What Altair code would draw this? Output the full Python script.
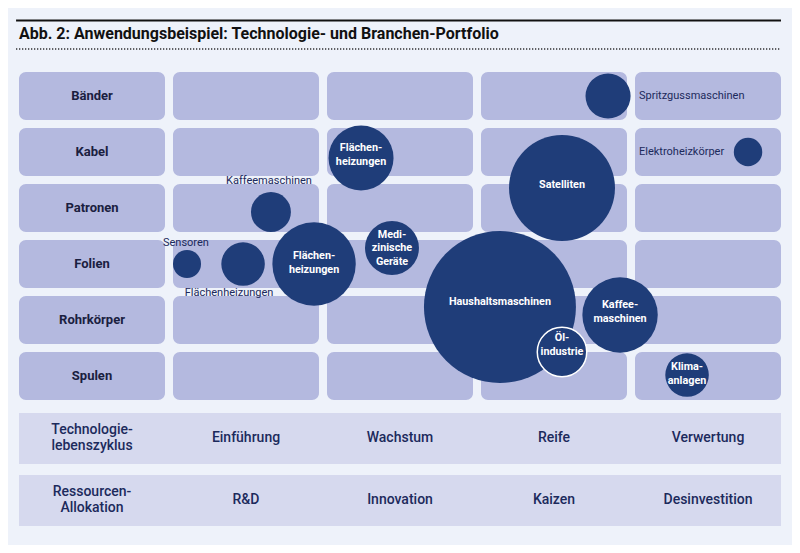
import altair as alt
import pandas as pd

# ---------------- data ----------------
rows = ["Bänder", "Kabel", "Patronen", "Folien", "Rohrkörper", "Spulen"]
n_cols = 5
lifecycle = ["Einführung", "Wachstum", "Reife", "Verwertung"]
allocation = ["R&D", "Innovation", "Kaizen", "Desinvestition"]
band_heads = ["Technologie-\nlebenszyklus", "Ressourcen-\nAllokation"]
title_text = "Abb. 2: Anwendungsbeispiel: Technologie- und Branchen-Portfolio"

# bubbles: position in grid units (column, row), volume relative (max 100)
bubble_name = ["Spritzgussmaschinen", "Elektroheizkörper", "Flächenheizungen K",
               "Kaffeemaschinen P", "Sensoren", "Flächenheizungen F1",
               "Flächenheizungen F2", "Medizinische Geräte", "Satelliten",
               "Haushaltsmaschinen", "Kaffeemaschinen R", "Ölindustrie", "Klimaanlagen"]
bubble_x = [3.825, 4.734, 2.221, 1.636, 1.091, 1.455, 1.916, 2.422, 3.526, 3.123, 3.903, 3.526, 4.338]
bubble_y = [0.429, 1.429, 1.536, 2.500, 3.429, 3.429, 3.429, 3.143, 2.071, 4.196, 4.339, 5.000, 5.411]
bubble_volume = [8.8, 3.5, 18.3, 6.9, 3.4, 8.2, 30.1, 12.6, 48.6, 100, 24.6, 10.6, 8.2]

inside_text = ["Flächen-\nheizungen", "Flächen-\nheizungen", "Medi-\nzinische\nGeräte", "Satelliten",
               "Haushaltsmaschinen", "Kaffee-\nmaschinen", "Öl-\nindustrie", "Klima-\nanlagen"]
inside_x = [2.221, 1.916, 2.422, 3.526, 3.123, 3.903, 3.526, 4.338]
inside_y = [1.482, 3.411, 3.143, 2.018, 4.107, 4.286, 4.875, 5.393]

left_text = ["Spritzgussmaschinen", "Elektroheizkörper"]
left_x = [4.026, 4.026]
left_y = [0.429, 1.429]

center_text = ["Kaffeemaschinen", "Sensoren", "Flächenheizungen"]
center_x = [1.623, 1.084, 1.364]
center_y = [1.946, 3.054, 3.946]

# ---------------- layout / style ----------------
W, H = 784, 537
CELL_W, CELL_H = 146 / 154, 48 / 56
BAND_Y = [(6.089, 7.0), (7.196, 8.107)]
FONT = "Roboto"
NAVY = "#1c2a5c"
CELL = "#b4b9df"
BAND = "#d6d9ee"
BUB = "#1f3d79"
PANEL = "#eef2fa"
IN_LH = 13.5
BAND_LH = 16

xs = alt.Scale(domain=[-11 / 154, 773 / 154], nice=False, zero=False)
ys = alt.Scale(domain=[-64 / 56, 473 / 56], nice=False, zero=False, reverse=True)

def X(f="x"):
    return alt.X(f"{f}:Q", scale=xs, axis=None)

def Y(f="y"):
    return alt.Y(f"{f}:Q", scale=ys, axis=None)

# grid cells
cells = pd.DataFrame([{"x": c, "x2": c + CELL_W, "y": r, "y2": r + CELL_H}
                      for r in range(len(rows)) for c in range(n_cols)])
cell_layer = alt.Chart(cells).mark_rect(color=CELL, cornerRadius=7).encode(
    x=X(), x2="x2:Q", y=Y(), y2="y2:Q")

row_df = pd.DataFrame({"label": rows, "x": [CELL_W / 2] * len(rows),
                       "y": [i + CELL_H / 2 for i in range(len(rows))]})
row_layer = alt.Chart(row_df).mark_text(font=FONT, fontSize=13, fontWeight="bold",
                                        color="#1a2040").encode(x=X(), y=Y(), text="label:N")

# bottom bands
band_df = pd.DataFrame({"x": [0, 0], "x2": [n_cols - 1 + CELL_W] * 2,
                        "y": [b[0] for b in BAND_Y], "y2": [b[1] for b in BAND_Y]})
band_layer = alt.Chart(band_df).mark_rect(color=BAND).encode(x=X(), x2="x2:Q", y=Y(), y2="y2:Q")

band_txt = []
for bi, (head, vals) in enumerate(zip(band_heads, [lifecycle, allocation])):
    yc = (BAND_Y[bi][0] + BAND_Y[bi][1]) / 2
    band_txt.append({"label": head, "x": CELL_W / 2, "y": yc, "n": head.count("\n") + 1})
    for ci, v in enumerate(vals):
        band_txt.append({"label": v, "x": ci + 1 + CELL_W / 2, "y": yc, "n": 1})
band_txt_df = pd.DataFrame(band_txt)
band_txt_layers = [
    alt.Chart(band_txt_df).transform_filter(alt.datum.n == n).mark_text(
        font=FONT, fontSize=14, fontWeight=500, color=NAVY, lineBreak="\n",
        lineHeight=BAND_LH, dy=-(n - 1) * BAND_LH / 2
    ).encode(x=X(), y=Y(), text="label:N")
    for n in (1, 2)
]

# bubbles
bub_df = pd.DataFrame({"name": bubble_name, "x": bubble_x, "y": bubble_y, "v": bubble_volume})
size_scale = alt.Scale(domain=[0, 100], range=[0, 152 * 152], zero=True)
bub_layer = alt.Chart(bub_df).mark_circle(color=BUB, opacity=1).encode(
    x=X(), y=Y(), size=alt.Size("v:Q", scale=size_scale, legend=None))
ring_layer = alt.Chart(bub_df).transform_filter(alt.datum.name == "Ölindustrie").mark_point(
    shape="circle", filled=False, stroke="white", strokeWidth=1.5, opacity=1).encode(
    x=X(), y=Y(), size=alt.Size("v:Q", scale=size_scale, legend=None))

in_df = pd.DataFrame({"label": inside_text, "x": inside_x, "y": inside_y,
                      "n": [t.count("\n") + 1 for t in inside_text]})
in_layers = [
    alt.Chart(in_df).transform_filter(alt.datum.n == n).mark_text(
        font=FONT, fontSize=10.8, fontWeight="bold", color="white", lineBreak="\n",
        lineHeight=IN_LH, dy=-(n - 1) * IN_LH / 2
    ).encode(x=X(), y=Y(), text="label:N")
    for n in (1, 2, 3)
]

left_layer = alt.Chart(pd.DataFrame({"label": left_text, "x": left_x, "y": left_y})).mark_text(
    font=FONT, fontSize=11, color=NAVY, align="left").encode(x=X(), y=Y(), text="label:N")
center_layer = alt.Chart(pd.DataFrame({"label": center_text, "x": center_x, "y": center_y})).mark_text(
    font=FONT, fontSize=11, color=NAVY, align="center").encode(x=X(), y=Y(), text="label:N")

# title and rules
title_layer = alt.Chart(pd.DataFrame({"label": [title_text], "x": [0.0], "y": [-0.679]})).mark_text(
    font=FONT, fontSize=16, fontWeight="bold", color="#111111", align="left"
).encode(x=X(), y=Y(), text="label:N")
solid_rule = alt.Chart(pd.DataFrame({"x": [-0.019], "x2": [4.948], "y": [-0.92]})).mark_rule(
    color="#111111", strokeWidth=2).encode(x=X(), x2="x2:Q", y=Y())
dot_rule = alt.Chart(pd.DataFrame({"x": [-0.019], "x2": [4.948], "y": [-0.411]})).mark_rule(
    color="#222222", strokeWidth=1.5, strokeDash=[1.2, 1.8]).encode(x=X(), x2="x2:Q", y=Y())

chart = alt.layer(
    cell_layer, row_layer, band_layer, *band_txt_layers,
    bub_layer, ring_layer, *in_layers, left_layer, center_layer,
    title_layer, solid_rule, dot_rule
).properties(width=W, height=H, padding=0, autosize=alt.AutoSizeParams(type="none"),
             background="white").configure_view(fill=PANEL, stroke=None)

chart.save("out.html", embed_options={"renderer": "svg", "actions": False})
